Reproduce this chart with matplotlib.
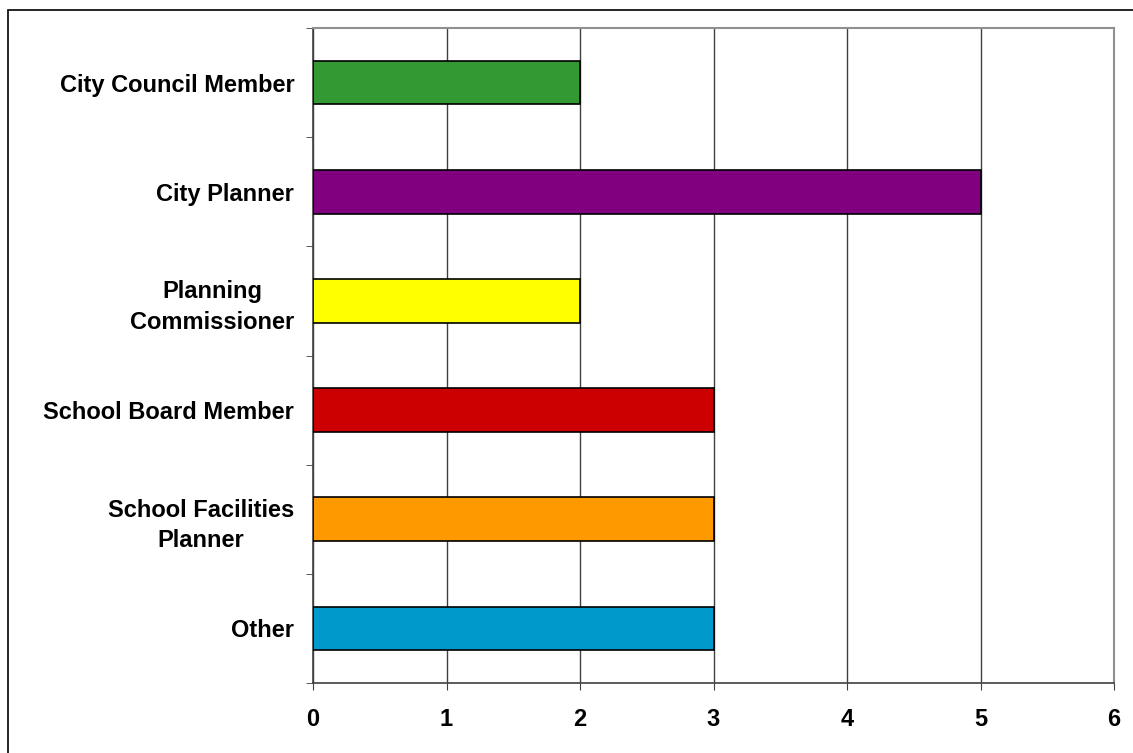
import numpy as np
import matplotlib.pyplot as plt
from matplotlib.patches import Rectangle

plt.rcParams['font.family'] = ['Liberation Sans', 'DejaVu Sans']

# ----------- 数据 -----------
roles = ["City Council Member", "City Planner", "Planning\nCommissioner",
         "School Board Member", "School Facilities\nPlanner", "Other"]
counts = [2, 5, 2, 3, 3, 3]
bar_colors = ["#339933", "#800080", "#FFFF00", "#CC0000", "#FF9900", "#0099CC"]
x_ticks = [0, 1, 2, 3, 4, 5, 6]

fig = plt.figure(figsize=(11.33, 7.53), dpi=100)
ax = fig.add_axes([313 / 1133, 1 - 683 / 753, (1114 - 313) / 1133, (683 - 28) / 753])

y = np.arange(len(roles))
ax.barh(y, counts, height=0.4, color=bar_colors, edgecolor='black', linewidth=1.2, zorder=3)

ax.set_ylim(len(roles) - 0.5, -0.5)
ax.set_xlim(0, 6)
ax.set_xticks(x_ticks)
ax.set_xticklabels([str(t) for t in x_ticks], fontsize=17, fontweight='bold')
ax.set_yticks(y)
ax.set_yticklabels(roles, fontsize=17, fontweight='bold', linespacing=1.4,
                   multialignment='center')
ax.set_yticks(np.arange(-0.5, len(roles), 1), minor=True)

ax.tick_params(axis='y', which='major', length=0, pad=13.5)
ax.tick_params(axis='y', which='minor', length=5, color='#404040', direction='out')
ax.tick_params(axis='x', length=5, color='#404040', pad=13)

ax.grid(axis='x', color='#404040', linewidth=1.0, zorder=0)
ax.set_axisbelow(True)

for side in ('left', 'bottom'):
    ax.spines[side].set_color('#404040')
    ax.spines[side].set_linewidth(1.2)
for side in ('top', 'right'):
    ax.spines[side].set_color('#909090')
    ax.spines[side].set_linewidth(1.5)

# 外框
fig.patches.append(Rectangle((8 / 1133, -0.05), 1.2, 1 - 10 / 753 + 0.05,
                             transform=fig.transFigure, fill=False,
                             edgecolor='black', linewidth=1.2))

fig.savefig('out.png', dpi=100)
